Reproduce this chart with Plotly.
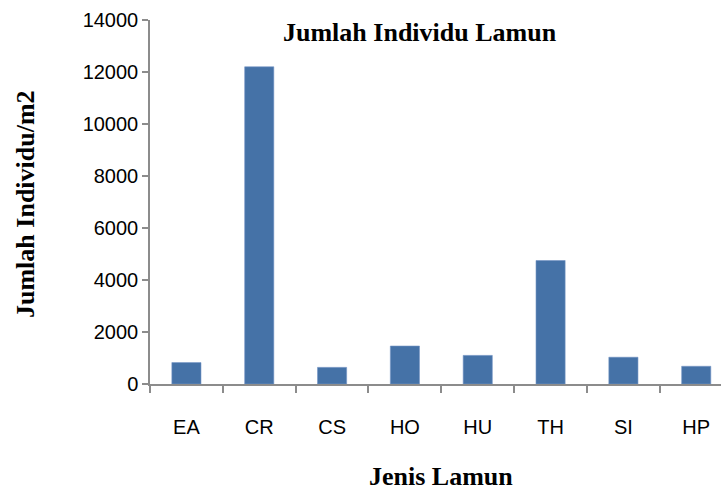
import plotly.graph_objects as go

categories = ["EA", "CR", "CS", "HO", "HU", "TH", "SI", "HP"]
values = [825, 12200, 640, 1460, 1100, 4750, 1030, 682]
y_ticks = [0, 2000, 4000, 6000, 8000, 10000, 12000, 14000]

W, H = 721, 490
L, R, T, B = 150, 0, 20, 106
PW, PH = W - L - R, H - T - B


def px_x(x):
    return (x - L) / PW


def px_y(y):
    return 1 - (y - T) / PH


serif = "Liberation Serif, Times New Roman, serif"
sans = "Liberation Sans, Arial, sans-serif"

fig = go.Figure(go.Bar(
    x=categories, y=values,
    marker=dict(color="#4572A7", line=dict(color="#7393C4", width=0.6)),
    width=0.40,
))

fig.update_layout(
    width=W, height=H,
    margin=dict(l=L, r=R, t=T, b=B),
    paper_bgcolor="white", plot_bgcolor="white",
    showlegend=False,
    font=dict(family=sans, color="black"),
    annotations=[
        dict(text="<b>Jumlah Individu Lamun</b>", x=px_x(420), y=px_y(32),
             xref="paper", yref="paper", xanchor="center", yanchor="middle",
             showarrow=False, font=dict(family=serif, size=26, color="black")),
        dict(text="<b>Jenis Lamun</b>", x=px_x(441), y=px_y(476),
             xref="paper", yref="paper", xanchor="center", yanchor="middle",
             showarrow=False, font=dict(family=serif, size=26, color="black")),
        dict(text="<b>Jumlah Individu/m2</b>", x=px_x(25), y=px_y(204),
             xref="paper", yref="paper", xanchor="center", yanchor="middle",
             textangle=-90,
             showarrow=False, font=dict(family=serif, size=26, color="black")),
    ],
)

fig.update_xaxes(
    type="category",
    range=[-0.5, 7.34],
    showline=True, linecolor="#8c8c8c", linewidth=1.5,
    ticks="outside", tickson="boundaries", ticklen=7, tickcolor="#8c8c8c", tickwidth=1.5,
    tickfont=dict(size=20, family=sans, color="black"),
    ticklabelstandoff=24,
    showgrid=False,
)
fig.update_yaxes(
    range=[0, 14000],
    tickvals=y_ticks, ticktext=[str(v) for v in y_ticks],
    showline=True, linecolor="#8c8c8c", linewidth=1.5,
    ticks="outside", ticklen=6, tickcolor="#8c8c8c", tickwidth=1.5,
    tickfont=dict(size=20, family=sans, color="black"),
    showgrid=False, zeroline=False,
)

fig.write_html("out.html", config={"displayModeBar": False},
               post_script="document.body.style.margin='0px';")
